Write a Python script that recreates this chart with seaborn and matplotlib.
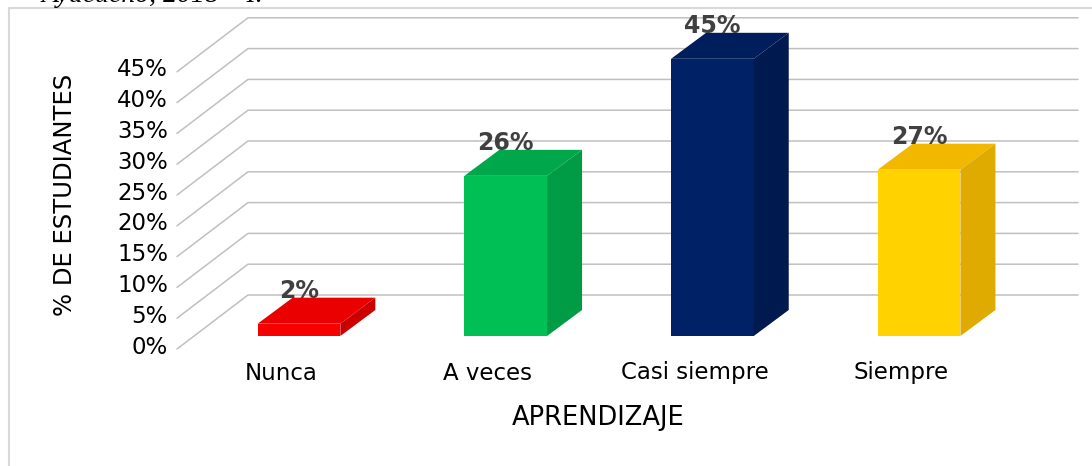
import matplotlib
matplotlib.use("Agg")
import matplotlib.pyplot as plt
import seaborn as sns
from matplotlib.patches import Polygon

categories = ["Nunca", "A veces", "Casi siempre", "Siempre"]
values = [2, 26, 45, 27]
yticks = [0, 5, 10, 15, 20, 25, 30, 35, 40, 45]

front_colors = ["#F60000", "#00BF55", "#002165", "#FFD200"]
top_colors = ["#EA0000", "#00A84B", "#001E5C", "#F2B800"]
side_colors = ["#CC0000", "#009C45", "#001A50", "#DFAB00"]

sns.set_style("white")
plt.rcParams['font.family'] = ['DejaVu Sans']
plt.rcParams['text.color'] = 'black'

fig = plt.figure(figsize=(10.92, 4.66), dpi=100)
ax = fig.add_axes([0, 0, 1, 1])

# pixel layout -> data units (x: category units, y: percent)
X0, XS = 299, 206.7
Y0, YS = 336, 6.16
def px(p):
    return (p - X0) / XS
def py(p):
    return (Y0 - p) / YS

sns.barplot(x=categories, y=values, hue=categories, palette=front_colors,
            saturation=1, width=0.40, legend=False, ax=ax, zorder=3)

# bar depth
bdx, bdy = 35 / XS, 26 / YS
for i, p in enumerate(ax.patches):
    x0, w, h = p.get_x(), p.get_width(), p.get_height()
    p.set_linewidth(0)
    top = [(x0, h), (x0 + w, h), (x0 + w + bdx, h + bdy), (x0 + bdx, h + bdy)]
    side = [(x0 + w, 0), (x0 + w + bdx, bdy), (x0 + w + bdx, h + bdy), (x0 + w, h)]
    ax.add_patch(Polygon(top, closed=True, color=top_colors[i], lw=0, zorder=3))
    ax.add_patch(Polygon(side, closed=True, color=side_colors[i], lw=0, zorder=3))
    ax.text(x0 + w / 2, h + bdy + 1.1, f"{values[i]}%", ha="center", va="center",
            fontsize=17, fontweight="bold", color="#404040", zorder=5)

# back wall and diagonal grid
back_x, back_dy = px(248), 41 / YS
front_x, front_dy = px(177), -13 / YS
right_x = px(1078)
for v in yticks:
    ax.plot([front_x, back_x, right_x], [v + front_dy, v + back_dy, v + back_dy],
            color="#C0C0C0", lw=1.1, zorder=1)
    ax.text(px(168), v + front_dy + 0.3, f"{v}%", ha="right", va="center",
            fontsize=16.5)

for i, c in enumerate(categories):
    ax.text(i - 0.087, py(373), c, ha="center", va="center", fontsize=16.5)

ax.text(px(598), py(418), "APRENDIZAJE", ha="center", va="center", fontsize=18.5)
ax.text(px(65), py(195), "% DE ESTUDIANTES", ha="center", va="center",
        rotation=90, fontsize=17.5)

ax.set_xlim(px(0), px(1092))
ax.set_ylim(py(466), py(0))
ax.axis("off")

# chart frame and cut-off caption above it
ax.plot([px(9), px(9), px(1092)], [py(466), py(8), py(8)], color="#D9D9D9",
        lw=1.5, zorder=0, clip_on=False)
ax.text(px(263), py(1.5), "Ayacucho, 2018 – I.", ha="right", va="baseline",
        fontsize=20, style="italic", family="Liberation Serif")

fig.savefig("out.png", dpi=100)
